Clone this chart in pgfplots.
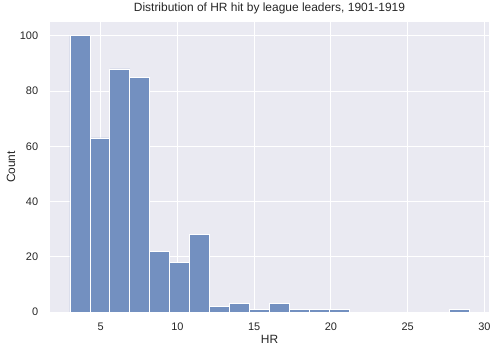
\documentclass[border=0pt]{standalone}
\usepackage{fontspec}
\setmainfont{Liberation Sans}
\usepackage{pgfplots}
\pgfplotsset{compat=1.18}
\definecolor{bg}{HTML}{EAEAF2}
\definecolor{barc}{HTML}{7390C0}
\definecolor{txt}{HTML}{262626}
\begin{document}
\begin{tikzpicture}
\begin{axis}[
  at={(0,0)}, anchor=south west,
  scale only axis, width=439bp, height=290bp,
  xmin=1.7, xmax=30.3, ymin=0, ymax=105,
  axis background/.style={fill=bg},
  axis line style={draw=none},
  grid=major, major grid style={white, line width=1bp},
  major tick length=0pt, tick style={draw=none},
  xtick={5,10,...,30}, ytick={0,20,...,100},
  /pgf/number format/assume math mode=true,
  tick label style={font=\fontsize{11}{13}\selectfont, text=txt},
  xticklabel style={anchor=north, yshift=-7bp},
  yticklabel style={anchor=east, xshift=-8.3bp},
  xlabel={HR}, ylabel={Count},
  label style={font=\fontsize{12}{14}\selectfont, text=txt},
  xlabel style={at={(axis description cs:0.5,0)}, anchor=base, yshift=-31.5bp},
  ylabel style={at={(axis description cs:-0.0797,0.5)}, anchor=base},
  title={Distribution of HR hit by league leaders, 1901-1919},
  title style={font=\fontsize{12}{14}\selectfont, text=txt, at={(axis description cs:0.5,1)}, anchor=base, yshift=5bp},
]
\addplot[ybar interval, fill=barc, draw=white, line width=0.75bp] coordinates {
(3,100) (4.3,63) (5.6,88) (6.9,85) (8.2,22) (9.5,18) (10.8,28) (12.1,2) (13.4,3) (14.7,1) (16,3) (17.3,1) (18.6,1) (19.9,1) (21.2,0)};
\addplot[ybar interval, fill=barc, draw=white, line width=0.75bp] coordinates {
(27.7,1) (29,1)};
\end{axis}
\pgfresetboundingbox
\path (-50bp,-41bp) rectangle (446bp,312bp);
\end{tikzpicture}
\end{document}
